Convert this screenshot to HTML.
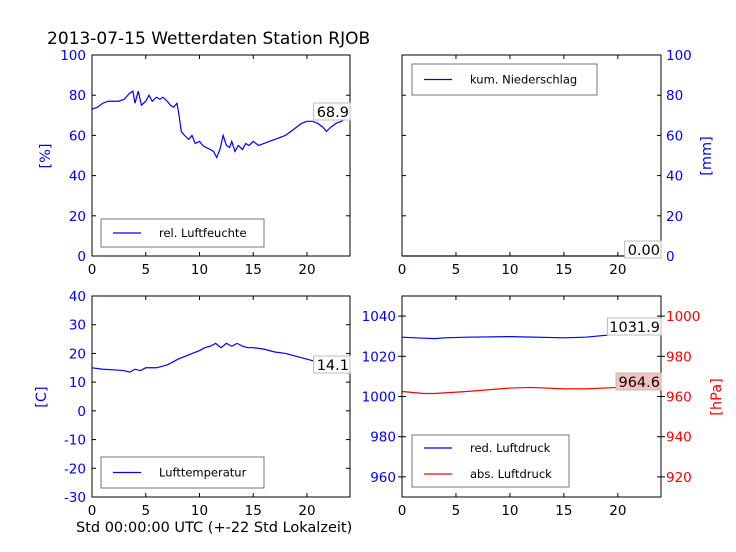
<!DOCTYPE html>
<html><head><meta charset="utf-8"><style>
body{margin:0;background:#fff}
svg{display:block;font-family:"DejaVu Sans","Liberation Sans",sans-serif}
</style></head><body>
<svg id="c" width="736" height="552" viewBox="0 0 736 552">
<rect width="736" height="552" fill="#fff"/>
<text x="47" y="44" font-size="17" fill="#000">2013-07-15 Wetterdaten Station RJOB</text>
<text x="76" y="532" font-size="14.5" fill="#000">Std 00:00:00 UTC (+-22 Std Lokalzeit)</text>
</svg>
<script>
const humHours=[0,0.5,1,1.5,2,2.5,3,3.5,3.8,4,4.3,4.6,5,5.3,5.6,6,6.3,6.6,7,7.3,7.6,7.9,8.1,8.3,8.6,9,9.3,9.6,10,10.3,10.6,11,11.3,11.6,11.9,12.2,12.5,12.8,13,13.3,13.6,14,14.3,14.6,15,15.5,16,16.5,17,17.5,18,18.5,19,19.5,20,20.5,21,21.5,21.8,22.2,22.7,23.2,23.7];
const humVals=[73,74,76,77,77,77,78,81,82,76,82,75,77,80,77,79,78,79,77,75,74,76,70,62,60,58,60,56,57,55,54,53,52,49,53,60,55,54,57,52,55,53,56,55,57,55,56,57,58,59,60,62,64,66,67,67,66,64,62,64,66,67,69];
const tempHours=[0,1,2,3,3.5,4,4.5,5,6,7,8,9,10,10.5,11,11.5,12,12.5,13,13.5,14,14.5,15,16,17,18,19,20,21,22,23,23.7];
const tempVals=[15,14.5,14.3,14,13.5,14.5,14,15,15,16,18,19.5,21,22,22.5,23.5,22,23.5,22.5,23.5,22.5,22,22,21.5,20.5,20,19,18,17,16.5,16,15];
const redHours=[0,2,3,4,6,10,15,17,19,20,22,23.7];
const redVals=[1029.5,1029,1028.8,1029.2,1029.5,1029.8,1029.2,1029.5,1030.5,1031.5,1032,1032];
const absHours=[0,2,3,6,10,12,15,17,20,23.7];
const absVals=[962.5,961.5,961.5,962.5,964.2,964.5,963.8,963.8,964.5,964.6];
const rainHours=[0,24];
const rainVals=[0,0];
const xTicks=[0,5,10,15,20];
const humTicks=[0,20,40,60,80,100];
const tempTicks=[-30,-20,-10,0,10,20,30,40];
const redTicks=[960,980,1000,1020,1040];
const absTicks=[920,940,960,980,1000];

const svg=document.getElementById('c');
const NS='http://www.w3.org/2000/svg';
const FS=13.5;
function mk(tag,attrs,parent){const e=document.createElementNS(NS,tag);for(const k in attrs)e.setAttribute(k,attrs[k]);(parent||svg).appendChild(e);return e;}
function txt(s,attrs,parent){const e=mk('text',attrs,parent);e.textContent=s;return e;}

function panel(name,x0,x1,y0,y1){
  const g=mk('g',{});
  
  
  const xs=h=>x0+(x1-x0)*h/24;
  xTicks.forEach(t=>{
    const X=xs(t);
    mk('line',{x1:X,x2:X,y1:y1,y2:y1-4,stroke:'#000'},g);
    mk('line',{x1:X,x2:X,y1:y0,y2:y0+4,stroke:'#000'},g);
    const l=txt(String(t),{x:X,y:y1+18,'font-size':FS,'text-anchor':'middle',fill:'#000'},g);
    
    
  });
  return {g,xs};
}
function yaxis(g,ticks,ys,x,side,color,x0,x1){
  ticks.forEach(t=>{
    const Y=ys(t);
    mk('line',{x1:x0,x2:x0+4,y1:Y,y2:Y,stroke:'#000'},g);
    mk('line',{x1:x1,x2:x1-4,y1:Y,y2:Y,stroke:'#000'},g);
    const l=txt(String(t),{x:x,y:Y+5,'font-size':FS,'text-anchor':side,fill:color},g);
    
    
  });
}
function line(g,hs,vs,xs,ys,color,name){
  const p=mk('polyline',{points:hs.map((h,i)=>xs(h)+','+ys(vs[i])).join(' '),fill:'none',stroke:color,'stroke-width':1.2},g);
  
  
}
function frame(g,x0,x1,y0,y1){mk('rect',{x:x0,y:y0,width:x1-x0,height:y1-y0,fill:'none',stroke:'#000','stroke-width':1},g);}
function annot(g,s,xr,y,bg,name){
  const w=s.length*8.6+2;
  mk('rect',{x:xr-w,y:y-14,width:w,height:17,fill:bg,stroke:'#bbb'},g);
  const t=txt(s,{x:xr-1,y:y,'font-size':14.5,'text-anchor':'end',fill:'#000'},g);
  
  
}
function legend(g,x,y,w,h,items,name){
  const lg=mk('g',{},g);
  
  
  mk('rect',{x:x,y:y,width:w,height:h,fill:'#fff',stroke:'#555','stroke-width':0.8},lg);
  items.forEach((it,i)=>{
    const cy=y+h/(items.length*2)*(2*i+1);
    mk('line',{x1:x+12,x2:x+40,y1:cy,y2:cy,stroke:it[1],'stroke-width':1.2},lg);
    txt(it[0],{x:x+58,y:cy+4,'font-size':11.5,fill:'#000'},lg);
  });
}

{const x0=92,x1=350,y0=55,y1=256;
 const {g,xs}=panel('humidity-panel',x0,x1,y0,y1);
 const ys=v=>y1-(y1-y0)*v/100;
 yaxis(g,humTicks,ys,x0-6,'end','#00f',x0,x1);
 line(g,humHours,humVals,xs,ys,'#00f','humidity-line');
 frame(g,x0,x1,y0,y1);
 annot(g,'68.9',350,117,'#fff','humidity-last-value');
 legend(g,101,219,163,28,[['rel. Luftfeuchte','#00f']],'humidity-legend');
 txt('[%]',{x:50,y:156,'font-size':14.5,fill:'#00f',transform:'rotate(-90 50 156)','text-anchor':'middle'},g);}

{const x0=402,x1=661,y0=55,y1=256;
 const {g,xs}=panel('rain-panel',x0,x1,y0,y1);
 const ys=v=>y1-(y1-y0)*v/100;
 yaxis(g,humTicks,ys,x1+5,'start','#00f',x0,x1);
 line(g,rainHours,rainVals,xs,ys,'#00f','rain-line');
 frame(g,x0,x1,y0,y1);
 annot(g,'0.00',661,255,'#fff','rain-last-value');
 legend(g,412,64,185,31,[['kum. Niederschlag','#00f']],'rain-legend');
 txt('[mm]',{x:711,y:156,'font-size':14.5,fill:'#00f',transform:'rotate(-90 711 156)','text-anchor':'middle'},g);}

{const x0=92,x1=350,y0=296,y1=497;
 const {g,xs}=panel('temperature-panel',x0,x1,y0,y1);
 const ys=v=>y1-(y1-y0)*(v+30)/70;
 yaxis(g,tempTicks,ys,x0-6,'end','#00f',x0,x1);
 line(g,tempHours,tempVals,xs,ys,'#00f','temperature-line');
 frame(g,x0,x1,y0,y1);
 annot(g,'14.1',350,370,'#fff','temperature-last-value');
 legend(g,101,457,163,31,[['Lufttemperatur','#00f']],'temperature-legend');
 txt('[C]',{x:46,y:397,'font-size':14.5,fill:'#00f',transform:'rotate(-90 46 397)','text-anchor':'middle'},g);}

{const x0=402,x1=661,y0=296,y1=497;
 const {g,xs}=panel('pressure-panel',x0,x1,y0,y1);
 const ysL=v=>y1-(y1-y0)*(v-950)/100;
 const ysR=v=>y1-(y1-y0)*(v-910)/100;
 yaxis(g,redTicks,ysL,x0-6,'end','#00f',x0,x0);
 yaxis(g,absTicks,ysR,x1+5,'start','#f00',x1,x1);
 line(g,redHours,redVals,xs,ysL,'#00f','red-pressure-line');
 line(g,absHours,absVals,xs,ysR,'#f00','abs-pressure-line');
 frame(g,x0,x1,y0,y1);
 annot(g,'1031.9',661,332,'#fff','red-pressure-last-value');
 annot(g,'964.6',661,387,'#f9c0c0','abs-pressure-last-value');
 legend(g,412,435,157,52,[['red. Luftdruck','#00f'],['abs. Luftdruck','#f00']],'pressure-legend');
 txt('[hPa]',{x:721,y:397,'font-size':14.5,fill:'#f00',transform:'rotate(-90 721 397)','text-anchor':'middle'},g);}
</script>
</body></html>
